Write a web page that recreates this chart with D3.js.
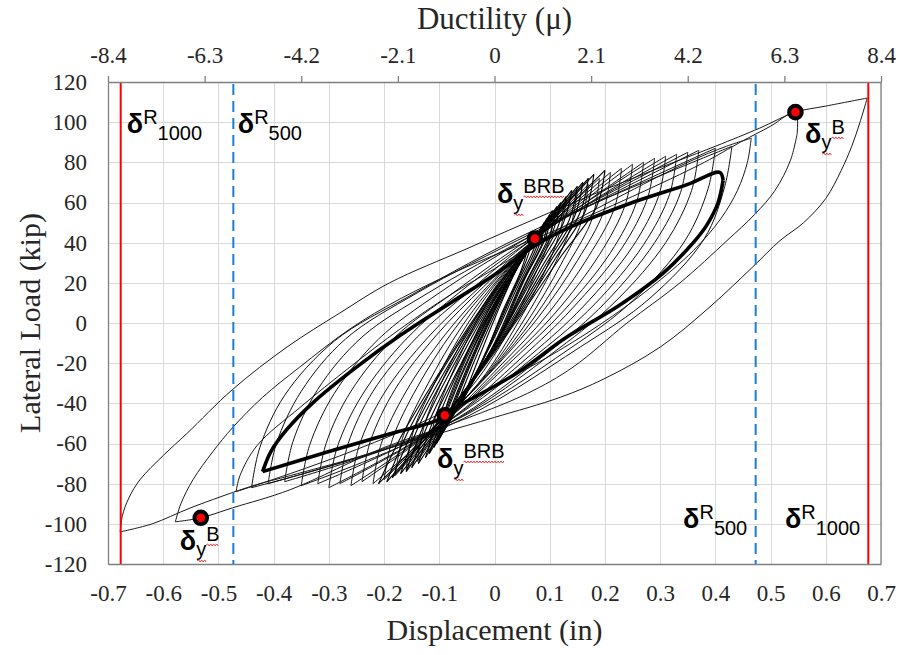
<!DOCTYPE html>
<html><head><meta charset="utf-8">
<script src="https://cdn.jsdelivr.net/npm/d3@7"></script>
<style>
body{margin:0;background:#fff;}
svg{display:block;}
.tick text{font-family:'Liberation Serif','Times New Roman',serif;}
</style></head><body>
<svg id="chart" width="901" height="655"></svg>
<script>
// ---------- data ----------
const dispTicks = [-0.7,-0.6,-0.5,-0.4,-0.3,-0.2,-0.1,0,0.1,0.2,0.3,0.4,0.5,0.6,0.7];
const dispLabels = ["-0.7","-0.6","-0.5","-0.4","-0.3","-0.2","-0.1","0","0.1","0.2","0.3","0.4","0.5","0.6","0.7"];
const loadTicks = [-120,-100,-80,-60,-40,-20,0,20,40,60,80,100,120];
const loadLabels = ["-120","-100","-80","-60","-40","-20","0","20","40","60","80","100","120"];
const ductTicks = [-8.4,-6.3,-4.2,-2.1,0,2.1,4.2,6.3,8.4];
const ductLabels = ["-8.4","-6.3","-4.2","-2.1","0","2.1","4.2","6.3","8.4"];

const drift1000 = [-0.677, 0.677];   // δR1000 limits (in)
const drift500  = [-0.473, 0.473];   // δR500 limits (in)

// yield points [disp, load]
const yieldPoints = [[0.545,105],[-0.532,-97],[0.073,42],[-0.09,-46]];

// outer cycles: neg tip -> loading branch -> pos tip -> unloading branch -> neg tip
const outerLoop1 = [[-0.678,-104],[-0.674,-96],[-0.662,-87],[-0.642,-78],[-0.6,-66],[-0.557,-55],[-0.474,-33],
  [-0.376,-12],[-0.28,5],[-0.19,20],[-0.05,37],[0.1,55],[0.25,72],[0.4,88],[0.48,97],[0.545,105],[0.6,108],[0.675,112],
  [0.662,100],[0.647,88],[0.628,76],[0.6,62],[0.56,50],[0.517,41],[0.468,28],[0.39,8],[0.3,-12],[0.197,-28],[0.119,-37],
  [0.0,-47],[-0.1,-55],[-0.25,-67],[-0.37,-76],[-0.437,-81],[-0.55,-92],[-0.62,-100],[-0.678,-104]];
const outerLoop2 = [[-0.578,-99],[-0.568,-90],[-0.546,-78],[-0.51,-64],[-0.474,-52],[-0.42,-37],[-0.353,-22],
  [-0.262,-3],[-0.171,12],[-0.05,28],[0.1,45],[0.25,63],[0.38,80],[0.445,90],[0.5,98],[0.545,105],
  [0.548,94],[0.536,81],[0.508,66],[0.471,54],[0.421,41],[0.336,20],[0.24,0],[0.142,-22],[0.06,-35],
  [-0.075,-50],[-0.2,-62],[-0.37,-83],[-0.474,-92],[-0.532,-97],[-0.578,-99]];
const outerLoop3 = [[-0.468,-84],[-0.461,-76],[-0.43,-61],[-0.352,-42],[-0.262,-22],[-0.171,-3],[-0.08,14],[0.0,27],
  [0.1,44],[0.22,62],[0.35,80],[0.42,88],[0.465,92],
  [0.458,80],[0.44,66],[0.41,52],[0.36,36],[0.28,17],[0.19,-1],[0.09,-18],[-0.02,-34],[-0.12,-48],[-0.25,-63],
  [-0.37,-75],[-0.468,-84]];
// repeated (thick) cycle
const thickLoop = [[-0.42,-74],[-0.405,-64],[-0.376,-53],[-0.33,-40],[-0.25,-22],[-0.17,-6],[-0.08,10],[0.0,24],
  [0.07,38],[0.131,47],[0.25,60],[0.35,69],[0.408,75],
  [0.414,71],[0.405,60],[0.385,49],[0.36,40],[0.306,25],[0.227,9],[0.131,-7],[0.04,-25],[-0.068,-42],[-0.1,-48],
  [-0.2,-56],[-0.3,-64],[-0.42,-74]];
// smaller cycles forming the dense core
const coreLoops = [
  [[-0.10,-58],[-0.088,-42],[-0.06,-22],[-0.02,2],[0.03,25],[0.07,41],[0.11,56],
   [0.098,40],[0.07,22],[0.03,-2],[-0.02,-24],[-0.07,-42],[-0.10,-58]],
  [[-0.12,-64],[-0.106,-46],[-0.075,-24],[-0.03,2],[0.025,26],[0.07,41],[0.13,61],
   [0.117,44],[0.09,25],[0.04,-1],[-0.015,-25],[-0.075,-45],[-0.12,-64]],
  [[-0.14,-69],[-0.126,-50],[-0.09,-26],[-0.04,0],[0.02,25],[0.07,41],[0.15,65],
   [0.137,47],[0.105,27],[0.05,0],[-0.01,-24],[-0.08,-46],[-0.14,-69]],
  [[-0.16,-73],[-0.146,-53],[-0.105,-28],[-0.05,-1],[0.015,24],[0.07,41],[0.17,69],
   [0.157,50],[0.12,29],[0.06,1],[-0.005,-23],[-0.085,-47],[-0.16,-73]],
  [[-0.18,-76],[-0.165,-56],[-0.12,-30],[-0.06,-2],[0.01,23],[0.07,41],[0.19,72],
   [0.177,52],[0.135,30],[0.07,2],[0.0,-22],[-0.088,-48],[-0.18,-76]],
  [[-0.20,-78],[-0.185,-58],[-0.14,-32],[-0.075,-4],[0.0,21],[0.07,41],[0.21,75],
   [0.197,55],[0.15,31],[0.08,3],[0.005,-21],[-0.09,-48],[-0.20,-78]],
  [[-0.22,-80],[-0.205,-60],[-0.16,-34],[-0.09,-6],[-0.01,19],[0.07,41],[0.23,77],
   [0.217,57],[0.17,33],[0.095,4],[0.015,-20],[-0.09,-49],[-0.22,-80]],
  [[-0.24,-79],[-0.225,-59],[-0.18,-33],[-0.105,-6],[-0.02,18],[0.07,41],[0.25,79],
   [0.237,59],[0.19,34],[0.11,5],[0.025,-19],[-0.09,-49],[-0.24,-79]],
  [[-0.26,-81],[-0.245,-61],[-0.2,-35],[-0.12,-7],[-0.03,17],[0.07,41],[0.27,80],
   [0.257,60],[0.21,35],[0.125,6],[0.035,-18],[-0.09,-49],[-0.26,-81]],
  [[-0.28,-80],[-0.265,-60],[-0.22,-34],[-0.14,-7],[-0.045,16],[0.07,42],[0.29,82],
   [0.277,62],[0.23,37],[0.14,7],[0.05,-17],[-0.09,-50],[-0.28,-80]],
  [[-0.30,-82],[-0.285,-62],[-0.24,-36],[-0.16,-8],[-0.06,16],[0.07,42],[0.31,83],
   [0.297,63],[0.25,38],[0.16,8],[0.065,-16],[-0.09,-50],[-0.30,-82]],
  [[-0.32,-80],[-0.305,-60],[-0.26,-34],[-0.18,-7],[-0.075,15],[0.07,43],[0.33,84],
   [0.317,64],[0.27,39],[0.18,9],[0.08,-15],[-0.09,-50],[-0.32,-80]],
  [[-0.35,-81],[-0.335,-61],[-0.29,-35],[-0.21,-8],[-0.1,15],[0.07,44],[0.35,85],
   [0.337,65],[0.29,40],[0.2,10],[0.1,-14],[-0.09,-51],[-0.35,-81]],
  [[-0.38,-79],[-0.365,-59],[-0.32,-33],[-0.24,-7],[-0.12,15],[0.07,44],[0.37,86],
   [0.357,66],[0.31,40],[0.22,11],[0.115,-13],[-0.09,-51],[-0.38,-79]],
  [[-0.41,-80],[-0.395,-60],[-0.35,-34],[-0.27,-8],[-0.14,15],[0.07,45],[0.40,87],
   [0.387,67],[0.345,41],[0.25,11],[0.135,-13],[-0.09,-51],[-0.41,-80]],
  [[-0.44,-82],[-0.425,-62],[-0.38,-36],[-0.29,-9],[-0.15,14],[0.07,46],[0.43,88],
   [0.417,68],[0.38,42],[0.28,12],[0.155,-12],[-0.09,-52],[-0.44,-82]]
];
// small, nearly elastic cycles along the band between the yield points
const bandLoops = [
  [[-0.06,-40],[-0.035,-22],[0.0,2],[0.035,24],[0.06,37],[0.048,26],[0.015,6],[-0.02,-18],[-0.06,-40]],
  [[-0.075,-46],[-0.05,-28],[-0.01,-2],[0.035,24],[0.07,42],[0.056,30],[0.02,8],[-0.025,-20],[-0.075,-46]],
  [[-0.085,-50],[-0.06,-32],[-0.02,-6],[0.03,22],[0.065,38],[0.085,48],[0.07,36],[0.035,16],[-0.01,-12],[-0.05,-34],[-0.085,-50]],
  [[-0.09,-52],[-0.065,-34],[-0.025,-8],[0.025,20],[0.062,37],[0.09,50],[0.075,37],[0.04,17],[-0.005,-10],[-0.05,-33],[-0.09,-52]],
  [[-0.095,-55],[-0.07,-36],[-0.03,-10],[0.02,18],[0.06,36],[0.095,52],[0.08,38],[0.045,18],[0.0,-10],[-0.045,-32],[-0.095,-55]],
  [[-0.105,-60],[-0.08,-40],[-0.04,-14],[0.015,16],[0.058,35],[0.1,54],[0.087,40],[0.05,20],[0.005,-8],[-0.045,-32],[-0.105,-60]],
  [[-0.11,-62],[-0.085,-42],[-0.045,-16],[0.01,14],[0.055,34],[0.105,56],[0.092,42],[0.055,22],[0.01,-6],[-0.04,-30],[-0.11,-62]],
  [[-0.118,-65],[-0.09,-44],[-0.05,-17],[0.005,12],[0.052,33],[0.113,58],[0.1,44],[0.06,22],[0.012,-5],[-0.042,-30],[-0.118,-65]],
  [[-0.125,-67],[-0.1,-46],[-0.055,-18],[0.0,10],[0.05,32],[0.12,60],[0.105,45],[0.065,24],[0.015,-4],[-0.045,-31],[-0.125,-67]],
  [[-0.138,-70],[-0.11,-48],[-0.06,-20],[-0.005,9],[0.047,31],[0.13,63],[0.115,48],[0.072,26],[0.018,-3],[-0.048,-32],[-0.138,-70]],
  [[-0.15,-72],[-0.12,-50],[-0.07,-22],[-0.01,8],[0.045,31],[0.14,66],[0.125,50],[0.08,28],[0.02,-2],[-0.05,-32],[-0.15,-72]],
  [[-0.16,-74],[-0.13,-52],[-0.078,-23],[-0.015,7],[0.042,30],[0.15,68],[0.135,51],[0.088,29],[0.025,-1],[-0.052,-33],[-0.16,-74]],
  [[-0.17,-75],[-0.14,-53],[-0.085,-24],[-0.02,6],[0.04,30],[0.16,70],[0.145,53],[0.095,30],[0.03,0],[-0.055,-34],[-0.17,-75]],
  [[-0.185,-77],[-0.15,-55],[-0.092,-25],[-0.025,5],[0.037,29],[0.17,72],[0.155,55],[0.102,31],[0.035,1],[-0.058,-35],[-0.185,-77]],
  [[-0.195,-79],[-0.16,-56],[-0.1,-26],[-0.03,4],[0.035,29],[0.18,74],[0.165,56],[0.11,32],[0.04,2],[-0.06,-36],[-0.195,-79]],
  [[-0.21,-80],[-0.17,-57],[-0.105,-27],[-0.035,3],[0.032,28],[0.2,76],[0.185,58],[0.12,33],[0.045,3],[-0.062,-37],[-0.21,-80]]
];

// ---------- drawing ----------
const W = 901, H = 655;
const m = {l:108, r:20, t:82, b:91};
const svg = d3.select("#chart");
const x = d3.scaleLinear().domain([-0.7,0.7]).range([m.l, W-m.r]);
const y = d3.scaleLinear().domain([-120,120]).range([H-m.b, m.t]);
const xd = d3.scaleLinear().domain([-8.4,8.4]).range([m.l, W-m.r]);
const serif = "'Liberation Serif','Times New Roman',serif";
const sans = "'Liberation Sans',Arial,sans-serif";

// grid
const grid = svg.append("g").attr("stroke","#d9d9d9").attr("stroke-width",1);
grid.selectAll("line.v").data(dispTicks).join("line").attr("class","v")
  .attr("x1",d=>Math.round(x(d))+0.5).attr("x2",d=>Math.round(x(d))+0.5).attr("y1",y(120)).attr("y2",y(-120));
grid.selectAll("line.h").data(loadTicks).join("line").attr("class","h")
  .attr("y1",d=>Math.round(y(d))+0.5).attr("y2",d=>Math.round(y(d))+0.5).attr("x1",x(-0.7)).attr("x2",x(0.7));

// hysteresis
const line = d3.line().x(d=>x(d[0])).y(d=>y(d[1])).curve(d3.curveCatmullRom.alpha(0.5));
function branches(pts){
  let im = 0; pts.forEach((p,i)=>{ if(p[0]>pts[im][0]) im=i; });
  return [pts.slice(0,im+1), pts.slice(im)];
}
const hg = svg.append("g").attr("fill","none").attr("stroke-linejoin","round");
function drawLoop(pts, w, c){
  branches(pts).forEach(b=>{
    hg.append("path").attr("d",line(b)).attr("stroke",c).attr("stroke-width",w);
  });
}
[outerLoop1, outerLoop2, outerLoop3].forEach(l=>drawLoop(l,1,"#1a1a1a"));
coreLoops.forEach(l=>drawLoop(l,1,"#111"));
bandLoops.forEach(l=>drawLoop(l,1.1,"#000"));
drawLoop(thickLoop,3.6,"#000");

// reference drift lines
svg.selectAll("line.r1000").data(drift1000).join("line").attr("class","r1000")
  .attr("x1",d=>x(d)).attr("x2",d=>x(d)).attr("y1",y(120)+1).attr("y2",y(-120))
  .attr("stroke","#ff0000").attr("stroke-width",2);
svg.selectAll("line.r500").data(drift500).join("line").attr("class","r500")
  .attr("x1",d=>x(d)).attr("x2",d=>x(d)).attr("y1",y(120)+2).attr("y2",y(-120))
  .attr("stroke","#1a7fd4").attr("stroke-width",2).attr("stroke-dasharray","11,6");

// axes
const axisColor = "#808080";
const gB = svg.append("g").attr("transform",`translate(0,${y(-120)})`)
  .call(d3.axisBottom(x).tickValues(dispTicks).tickFormat((d,i)=>dispLabels[i]).tickSize(0).tickSizeOuter(0).tickPadding(21));
const gL = svg.append("g").attr("transform",`translate(${x(-0.7)},0)`)
  .call(d3.axisLeft(y).tickValues(loadTicks).tickFormat((d,i)=>loadLabels[i]).tickSize(0).tickSizeOuter(0).tickPadding(21));
const gT = svg.append("g").attr("transform",`translate(0,${y(120)})`)
  .call(d3.axisTop(xd).tickValues(ductTicks).tickFormat((d,i)=>ductLabels[i]).tickSize(6).tickSizeOuter(0).tickPadding(13));
[gB,gL,gT].forEach(g=>{
  g.attr("font-family",serif).attr("font-size",23);
  g.select(".domain").attr("stroke",axisColor).attr("stroke-width",1.3);
  g.selectAll(".tick line").attr("stroke",axisColor).attr("stroke-width",1.3);
  g.selectAll(".tick text").attr("fill","#262626").attr("font-family",serif)
    .style("font-family",serif).style("font-size","23px");
});
svg.append("line").attr("x1",x(0.7)).attr("x2",x(0.7)).attr("y1",y(120)).attr("y2",y(-120))
  .attr("stroke",axisColor).attr("stroke-width",1.3);

// axis titles
svg.append("text").attr("x",(x(-0.7)+x(0.7))/2).attr("y",640).attr("text-anchor","middle")
  .style("font-family",serif).style("font-size","30px").attr("fill","#262626").text("Displacement (in)");
svg.append("text").attr("x",(x(-0.7)+x(0.7))/2).attr("y",29).attr("text-anchor","middle")
  .style("font-family",serif).style("font-size","31px").attr("fill","#262626").text("Ductility (μ)");
svg.append("text").attr("transform",`translate(40,${(y(120)+y(-120))/2}) rotate(-90)`).attr("text-anchor","middle")
  .style("font-family",serif).style("font-size","30px").attr("fill","#262626").text("Lateral Load (kip)");

// yield markers
svg.selectAll("circle.yp").data(yieldPoints).join("circle").attr("class","yp")
  .attr("cx",d=>x(d[0])).attr("cy",d=>y(d[1])).attr("r",6.3)
  .attr("fill","#ff0000").attr("stroke","#000").attr("stroke-width",4);

// annotations
function wavy(x0,x1,yy){
  let d = `M${x0},${yy}`; let up = true;
  for(let xx=x0+1.5; xx<=x1; xx+=1.5){ d += `L${xx},${yy+(up?-1:1)}`; up=!up; }
  svg.append("path").attr("d",d).attr("fill","none").attr("stroke","#e02020").attr("stroke-width",0.9);
}
function annot(px, py, first, second, firstDy, secondDy, squiggle){
  const t = svg.append("text").attr("x",x(px)).attr("y",y(py)).attr("fill","#000").style("font-family",sans);
  t.append("tspan").style("font-size","27px").style("font-weight","bold").text("δ");
  t.append("tspan").style("font-size","20px").attr("dy",firstDy).text(first);
  t.append("tspan").style("font-size","20px").attr("dy",secondDy).text(second);
  if(squiggle){
    const n = t.node();
    const b = y(py);
    const s1 = n.getStartPositionOfChar(1).x, e1 = n.getEndPositionOfChar(1).x;
    wavy(s1+1, e1, b+firstDy+5);
    const s2 = n.getStartPositionOfChar(2).x, e2 = n.getEndPositionOfChar(n.getNumberOfChars()-1).x;
    wavy(s2, e2, b+firstDy+secondDy+4);
  }
}
annot(-0.666, 94.6, "R", "1000", -9, 16, false);
annot(-0.465, 94.6, "R", "500", -9, 16, false);
annot(0.3415, -102.1, "R", "500", -9, 16, false);
annot(0.526, -102.1, "R", "1000", -9, 16, false);
annot(0.5625, 89.6, "y", "B", 6, -15, true);
annot(-0.57, -113, "y", "B", 6, -15, true);
annot(0.0045, 59.8, "y", "BRB", 7, -17, true);
annot(-0.104, -72.2, "y", "BRB", 7, -17, true);
</script>
</body></html>
